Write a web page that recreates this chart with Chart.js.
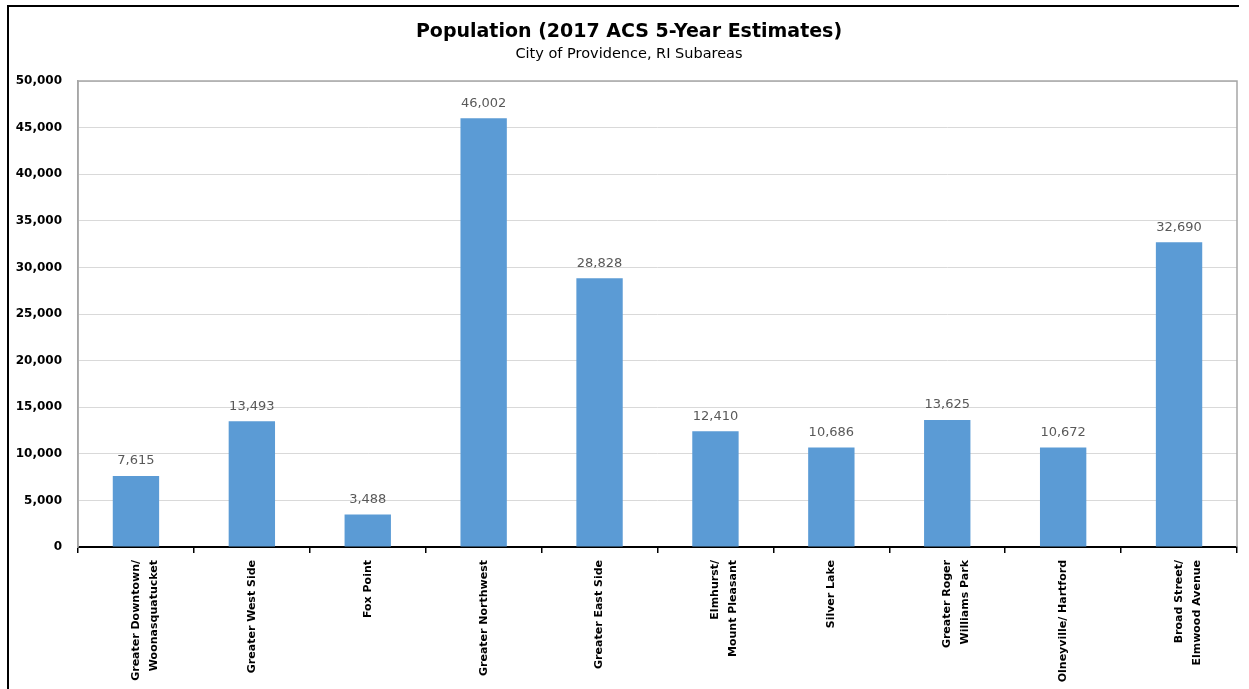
<!DOCTYPE html>
<html>
<head>
<meta charset="utf-8">
<title>Population (2017 ACS 5-Year Estimates)</title>
<script src="https://cdn.jsdelivr.net/npm/chart.js@4/dist/chart.umd.min.js"></script>
<style>
  html, body { margin: 0; padding: 0; background: #fff; overflow: hidden; }
  canvas { display: block; }
</style>
</head>
<body>
<canvas id="chart" width="1249" height="689"></canvas>
<script>
// Subareas of the City of Providence, RI
const subareas = [
  ['Greater Downtown/', 'Woonasquatucket'],
  'Greater West Side',
  'Fox Point',
  'Greater Northwest',
  'Greater East Side',
  ['Elmhurst/', 'Mount Pleasant'],
  'Silver Lake',
  ['Greater Roger', 'Williams Park'],
  'Olneyville/ Hartford',
  ['Broad Street/', 'Elmwood Avenue']
];

// Total population, 2017 ACS 5-year estimates
const population = [7615, 13493, 3488, 46002, 28828, 12410, 10686, 13625, 10672, 32690];

// Value axis ticks
const yTicks = [0, 5000, 10000, 15000, 20000, 25000, 30000, 35000, 40000, 45000, 50000];

const chartTitle = 'Population (2017 ACS 5-Year Estimates)';
const chartSubtitle = 'City of Providence, RI Subareas';

const fontFamily = '"DejaVu Sans", "Noto Sans", sans-serif';
const fmt = v => v.toLocaleString('en-US');

// Black page frame (left and top edges) plus the centred headings
const pageFrame = {
  id: 'pageFrame',
  beforeDraw(chart) {
    const { ctx } = chart;
    ctx.save();
    ctx.strokeStyle = '#000';
    ctx.lineWidth = 2;
    ctx.beginPath();
    ctx.moveTo(8, chart.height + 2);
    ctx.lineTo(8, 6);
    ctx.lineTo(1239, 6);
    ctx.stroke();

    const cx = 629;
    ctx.fillStyle = '#000';
    ctx.textAlign = 'center';
    ctx.textBaseline = 'middle';
    ctx.font = 'bold 19px ' + fontFamily;
    ctx.fillText(chartTitle, cx, 32);
    ctx.font = '14.5px ' + fontFamily;
    ctx.fillText(chartSubtitle, cx, 54);
    ctx.restore();
  }
};

// Gray frame around the plot area (left, top, right)
const plotFrame = {
  id: 'plotFrame',
  beforeDatasetsDraw(chart) {
    const { ctx, chartArea: a } = chart;
    ctx.save();
    ctx.strokeStyle = '#a6a6a6';
    ctx.lineWidth = 1.5;
    ctx.beginPath();
    ctx.moveTo(a.left, a.bottom);
    ctx.lineTo(a.left, a.top);
    ctx.lineTo(a.right, a.top);
    ctx.lineTo(a.right, a.bottom);
    ctx.stroke();
    ctx.restore();
  }
};

// Value labels above each bar
const barValues = {
  id: 'barValues',
  afterDatasetsDraw(chart) {
    const { ctx } = chart;
    const meta = chart.getDatasetMeta(0);
    ctx.save();
    ctx.fillStyle = '#595959';
    ctx.font = '13px ' + fontFamily;
    ctx.textAlign = 'center';
    ctx.textBaseline = 'middle';
    meta.data.forEach((bar, i) => {
      ctx.fillText(fmt(chart.data.datasets[0].data[i]), bar.x, bar.y - 15);
    });
    ctx.restore();
  }
};

new Chart(document.getElementById('chart'), {
  type: 'bar',
  data: {
    labels: subareas,
    datasets: [{
      data: population,
      backgroundColor: '#5b9bd5',
      borderWidth: 0,
      categoryPercentage: 0.4,
      barPercentage: 1.0
    }]
  },
  options: {
    responsive: false,
    animation: false,
    layout: { padding: { left: 0, right: 12, top: 81, bottom: 0 } },
    plugins: {
      legend: { display: false },
      tooltip: { enabled: false },
      title: { display: false },
      subtitle: { display: false }
    },
    scales: {
      x: {
        grid: {
          offset: true,
          drawOnChartArea: false,
          drawTicks: true,
          tickLength: 6,
          color: '#000',
          lineWidth: 1.5
        },
        border: { display: true, color: '#000', width: 2 },
        ticks: {
          color: '#000',
          font: { family: fontFamily, size: 11, weight: 'bold', lineHeight: 1.65 },
          minRotation: 90,
          maxRotation: 90,
          padding: 7,
          autoSkip: false
        },
        afterFit(scale) { scale.height = 142; }
      },
      y: {
        min: 0,
        max: 50000,
        afterBuildTicks(scale) { scale.ticks = yTicks.map(v => ({ value: v })); },
        grid: { color: '#d9d9d9', lineWidth: 1, drawTicks: false },
        border: { display: true, color: '#a6a6a6', width: 1.5 },
        ticks: {
          color: '#000',
          font: { family: fontFamily, size: 12, weight: 'bold' },
          padding: 16,
          callback: v => fmt(v)
        },
        afterFit(scale) { scale.width = 78; }
      }
    }
  },
  plugins: [pageFrame, plotFrame, barValues]
});
</script>
</body>
</html>
